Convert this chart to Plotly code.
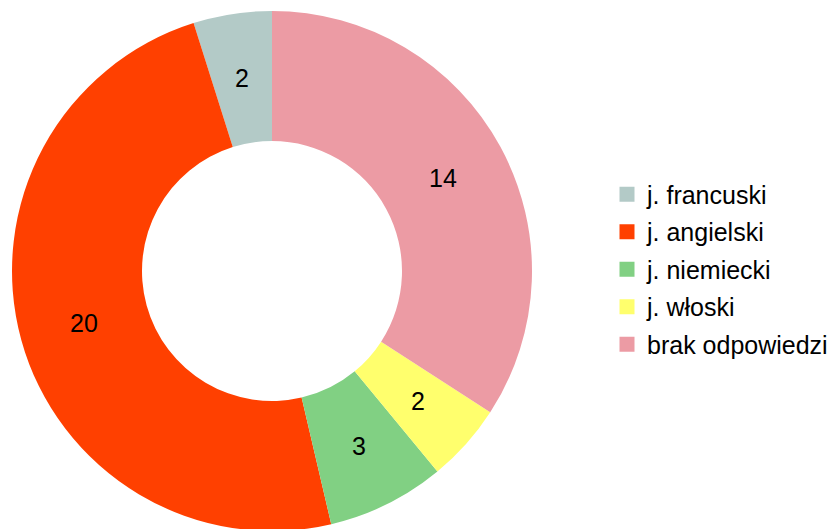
import math
import plotly.graph_objects as go

labels = ["j. francuski", "j. angielski", "j. niemiecki", "j. włoski", "brak odpowiedzi"]
values = [2, 20, 3, 2, 14]
colors = ["#b3cac7", "#ff4000", "#81d083", "#ffff6d", "#ec9ba4"]

W, H = 837, 529
dom_x = [4 / W, 524 / W]
dom_y = [6 / H, 526 / H]
hole = 0.5

# first slice starts at 12 o'clock and runs counterclockwise
start_rot = -360.0 * values[0] / sum(values)

fig = go.Figure()
fig.add_trace(go.Pie(
    labels=labels, values=values, hole=hole, sort=False,
    direction="counterclockwise", rotation=start_rot,
    marker=dict(colors=colors, line=dict(width=0)),
    textinfo="none",
    showlegend=False, hoverinfo="label+value",
    domain=dict(x=dom_x, y=dom_y),
))

# value labels centred in each ring segment (LibreOffice style)
cx = (dom_x[0] + dom_x[1]) / 2 * W
cy = (dom_y[0] + dom_y[1]) / 2 * H
R = min((dom_x[1] - dom_x[0]) * W, (dom_y[1] - dom_y[0]) * H) / 2
rm = R * (1 + hole) / 2
total = sum(values)
acc = 0
for v in values:
    mid = (acc + v / 2) / total * 2 * math.pi
    acc += v
    px = cx - rm * math.sin(mid)
    py = cy + rm * math.cos(mid)
    fig.add_annotation(x=px / W, y=py / H, xref="paper", yref="paper",
                       xanchor="center", yanchor="middle",
                       text=str(v), showarrow=False,
                       font=dict(size=25, color="black", family="Liberation Sans"))

for i, (lab, col) in enumerate(zip(labels, colors)):
    fig.add_trace(go.Scatter(
        x=[None], y=[None], mode="markers", name=lab,
        marker=dict(symbol="square", size=15, color=col),
        legendgroup=f"g{i}", showlegend=True,
    ))

fig.update_layout(
    width=W, height=H,
    margin=dict(l=0, r=0, t=0, b=0),
    paper_bgcolor="white", plot_bgcolor="white",
    font=dict(family="Liberation Sans", size=25, color="black"),
    xaxis=dict(visible=False), yaxis=dict(visible=False),
    legend=dict(x=599 / W, y=0.5057, xanchor="left", yanchor="middle",
                tracegroupgap=2, font=dict(size=25, family="Liberation Sans")),
)
fig.write_html("out.html")
